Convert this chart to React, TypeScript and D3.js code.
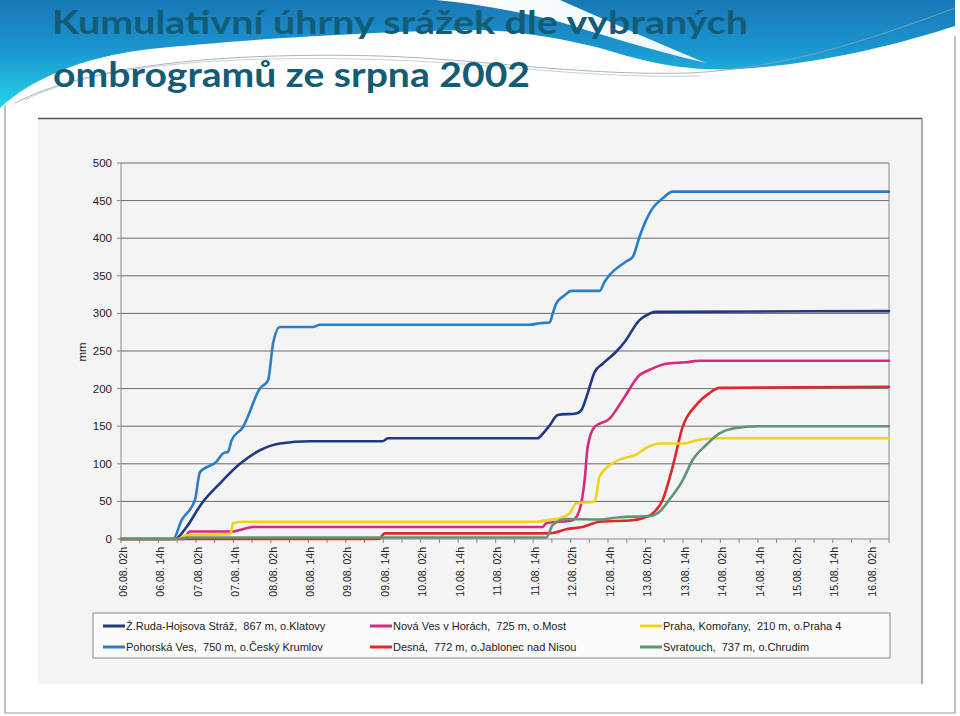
import React from "react";
import * as d3 from "d3";

const TITLE_LINES = ["Kumulativní úhrny srážek dle vybraných", "ombrogramů ze srpna 2002"];
const Y_LABEL = "mm";
const Y_TICKS = [0, 50, 100, 150, 200, 250, 300, 350, 400, 450, 500];
const X_LABELS = [
  "06.08. 02h", "06.08. 14h", "07.08. 02h", "07.08. 14h", "08.08. 02h", "08.08. 14h",
  "09.08. 02h", "09.08. 14h", "10.08. 02h", "10.08. 14h", "11.08. 02h", "11.08. 14h",
  "12.08. 02h", "12.08. 14h", "13.08. 02h", "13.08. 14h", "14.08. 02h", "14.08. 14h",
  "15.08. 02h", "15.08. 14h", "16.08. 02h",
];

// [hours since 06.08. 00h, cumulative mm]
const ZRUDA: [number, number][] = [[2,0],[19.3,0],[23,16],[27.8,47],[33.7,74],[40.1,100],[46.5,118],[52.9,127],[62.5,130],[85.8,130],[87.5,134],[135.5,134],[137.1,140],[139.3,151],[141.9,165],[147.8,167],[149.4,171],[151.5,194],[153.7,222],[156.3,233],[160.6,249],[163.3,262],[168.1,291],[169.7,296],[173.4,302],[248,303]];
const POHORSKA: [number, number][] = [[2,0],[18.7,0],[21.4,25],[25.7,52],[27.3,89],[32.6,103],[34.7,114],[36.3,116],[37.4,131],[41.1,149],[46.5,200],[49.1,211],[50.7,260],[52.9,282],[63.5,282],[65.7,285],[133,285],[136.1,287],[139.3,288],[140.3,300],[141.4,313],[144.1,324],[146.2,330],[155.3,330],[156.9,342],[158.5,351],[163.8,369],[165.9,375],[168.1,402],[170.2,424],[172.3,440],[175.5,453],[178.7,462],[248,462]];
const NOVA_VES: [number, number][] = [[2,0],[21.9,0],[24.1,10],[37.9,10],[40.1,12],[44.3,16],[137.1,16],[138.2,21],[146.7,25],[148.9,39],[150.5,78],[151.5,123],[153.7,149],[158.5,160],[163.3,189],[168.1,218],[171.3,225],[176.6,233],[183,235],[187.3,237],[248,237]];
const DESNA: [number, number][] = [[2,0],[84.5,0],[86.5,7.5],[138,7.5],[140.2,8],[144.6,13],[149.9,16],[155.3,23],[165.9,25],[169.1,27.5],[172.3,34],[175.5,52],[178.7,96],[181.9,149],[186.2,178],[190.5,194],[193.7,201],[248,202.5]];
const PRAHA: [number, number][] = [[2,0],[20.3,0],[23,5],[37,6.5],[37.9,21],[41.1,23],[135,23],[140,26],[142.5,27.5],[145.7,34],[147.8,47.5],[153.7,49.6],[155.3,83],[158.5,98],[162.7,107],[167,112],[170.2,121],[174.4,127],[181.9,127],[187.3,132],[192.6,134],[248,134]];
const SVRATOUCH: [number, number][] = [[2,0],[20,0],[24,2],[138.2,2],[140.3,18.6],[144.6,26.6],[155.3,26],[161.7,29],[171.3,30.6],[174.4,36],[177.6,52],[181.9,78],[185.1,105],[189.4,125],[193.7,140.5],[198,147],[206.5,150],[248,150]];

const NAMES = [
  "Ž.Ruda-Hojsova Stráž,  867 m, o.Klatovy",
  "Pohorská Ves,  750 m, o.Český Krumlov",
  "Nová Ves v Horách,  725 m, o.Most",
  "Desná,  772 m, o.Jablonec nad Nisou",
  "Praha, Komořany,  210 m, o.Praha 4",
  "Svratouch,  737 m, o.Chrudim",
];
const COLORS = ["#1f3a80", "#2a7dc6", "#d82a7c", "#e0282c", "#f0d21e", "#5f9572"];
const DATA = [ZRUDA, POHORSKA, NOVA_VES, DESNA, PRAHA, SVRATOUCH];
// legend grid: [column, row]
const LEGEND_POS: [number, number][] = [[0, 0], [0, 1], [1, 0], [1, 1], [2, 0], [2, 1]];

const FONT = "'Liberation Sans', Arial, sans-serif";
const TITLE_FONT = "Lato, 'Open Sans', sans-serif";

export default function App() {
  const x = d3.scaleLinear().domain([2, 248]).range([121, 889]);
  const y = d3.scaleLinear().domain([0, 500]).range([539, 163]);
  const line = d3
    .line<[number, number]>()
    .x((d) => x(d[0]))
    .y((d) => y(d[1]))
    .curve(d3.curveMonotoneX);
  const tickHours = d3.range(2, 249, 6);
  const [x0, x1] = x.range();
  const [yb, yt] = y.range();

  return (
    <svg
      width={960}
      height={716}
      style={{ position: "absolute", left: 0, top: 0, background: "#fff" }}
    >
      <defs>
        <linearGradient id="band" x1="0" y1="0" x2="0" y2="105" gradientUnits="userSpaceOnUse">
          <stop offset="0" stopColor="#1a78b6" />
          <stop offset="0.45" stopColor="#1a94cf" />
          <stop offset="1" stopColor="#25d0e6" />
        </linearGradient>
        <linearGradient id="streak" x1="440" y1="0" x2="705" y2="64" gradientUnits="userSpaceOnUse">
          <stop offset="0" stopColor="#ffffff" />
          <stop offset="1" stopColor="#e8f7fb" />
        </linearGradient>
      </defs>
      <rect x={0} y={0} width={960} height={716} fill="#fff" />
      {/* header decoration */}
      <path
        d="M0,0 H955 V26 C900,44 820,64 740,69 C680,72 640,60 600,48 C560,38 520,31 480,30 C380,31 250,39 150,49 C80,57 30,80 0,108 Z"
        fill="url(#band)"
      />
      <path
        d="M436,0 H560 C610,22 660,44 706,63 C650,50 600,34 560,22 C520,12 480,4 436,0 Z"
        fill="url(#streak)"
      />
      <path
        d="M15,103 C90,64 230,52 380,56 C480,59 580,76 690,73 C790,68 880,36 955,8"
        fill="none"
        stroke="#8fa4ab"
        strokeWidth={1}
        opacity={0.8}
      />
      <path
        d="M25,100 C100,62 240,55 390,60 C490,63 590,79 700,76"
        fill="none"
        stroke="#b8c6ca"
        strokeWidth={1}
        opacity={0.8}
      />
      {/* slide frame */}
      <path d="M5,105 V713 H955 V36" fill="none" stroke="#9a9a9a" strokeWidth={1.2} />
      {/* title */}
      <text
        x={52}
        y={34}
        fontFamily={TITLE_FONT}
        fontWeight="bold"
        fontSize={33}
        fill="#145c76"
        textLength={696}
        lengthAdjust="spacingAndGlyphs"
      >
        {TITLE_LINES[0]}
      </text>
      <text
        x={53}
        y={87}
        fontFamily={TITLE_FONT}
        fontWeight="bold"
        fontSize={35}
        fill="#145c76"
        textLength={477}
        lengthAdjust="spacingAndGlyphs"
      >
        {TITLE_LINES[1]}
      </text>

      {/* scanned chart panel */}
      <rect x={38} y={118} width={884} height={566} fill="#f4f4f4" />
      <line x1={38} y1={118.5} x2={922} y2={118.5} stroke="#555" strokeWidth={1.5} />
      <line x1={922} y1={118} x2={922} y2={684} stroke="#777" strokeWidth={1.2} />

      {/* grid */}
      {Y_TICKS.filter((t) => t > 0).map((t) => (
        <line key={t} x1={x0} x2={x1} y1={y(t)} y2={y(t)} stroke="#6a6a6a" strokeWidth={1} />
      ))}
      {/* plot right border */}
      <line x1={x1} x2={x1} y1={yt} y2={yb} stroke="#8a8a8a" strokeWidth={1} />
      {/* y axis */}
      <line x1={x0} x2={x0} y1={yt} y2={yb} stroke="#888" strokeWidth={1} />
      {Y_TICKS.map((t) => (
        <g key={t}>
          <line x1={x0 - 4} x2={x0} y1={y(t)} y2={y(t)} stroke="#888" />
          <text
            x={112}
            y={y(t)}
            dy="0.35em"
            textAnchor="end"
            fontFamily={FONT}
            fontSize={11.5}
            fill="#222"
          >
            {t}
          </text>
        </g>
      ))}
      <text
        transform={`translate(82,352) rotate(-90)`}
        textAnchor="middle"
        dy="0.35em"
        fontFamily={FONT}
        fontSize={11.5}
        fill="#222"
      >
        {Y_LABEL}
      </text>
      {/* x axis */}
      <line x1={x0} x2={x1} y1={yb} y2={yb} stroke="#888" strokeWidth={1} />
      {tickHours.map((h) => (
        <line key={h} x1={x(h)} x2={x(h)} y1={yb} y2={yb + 4} stroke="#888" />
      ))}
      {X_LABELS.map((lab, i) => (
        <text
          key={lab}
          transform={`translate(${x(2 + 12 * i) + 2},547) rotate(-90)`}
          textAnchor="end"
          dy="0.35em"
          fontFamily={FONT}
          fontSize={10.5}
          fill="#222"
        >
          {lab}
        </text>
      ))}

      {/* series */}
      {DATA.map((d, i) => (
        <path
          key={NAMES[i]}
          d={line(d) || ""}
          fill="none"
          stroke={COLORS[i]}
          strokeWidth={2.6}
          strokeLinejoin="round"
          strokeLinecap="round"
        />
      ))}

      {/* legend */}
      <rect x={93} y={613} width={797} height={45} fill="#fbfbfb" stroke="#8a8a8a" strokeWidth={1} />
      {NAMES.map((n, i) => {
        const [c, r] = LEGEND_POS[i];
        const lx = [103, 370, 640][c];
        const ly = [626, 647][r];
        return (
          <g key={n}>
            <line x1={lx} x2={lx + 22} y1={ly} y2={ly} stroke={COLORS[i]} strokeWidth={3} />
            <text
              x={lx + 23}
              y={ly}
              dy="0.35em"
              fontFamily={FONT}
              fontSize={11}
              fill="#222"
              style={{ whiteSpace: "pre" }}
            >
              {n}
            </text>
          </g>
        );
      })}
    </svg>
  );
}
